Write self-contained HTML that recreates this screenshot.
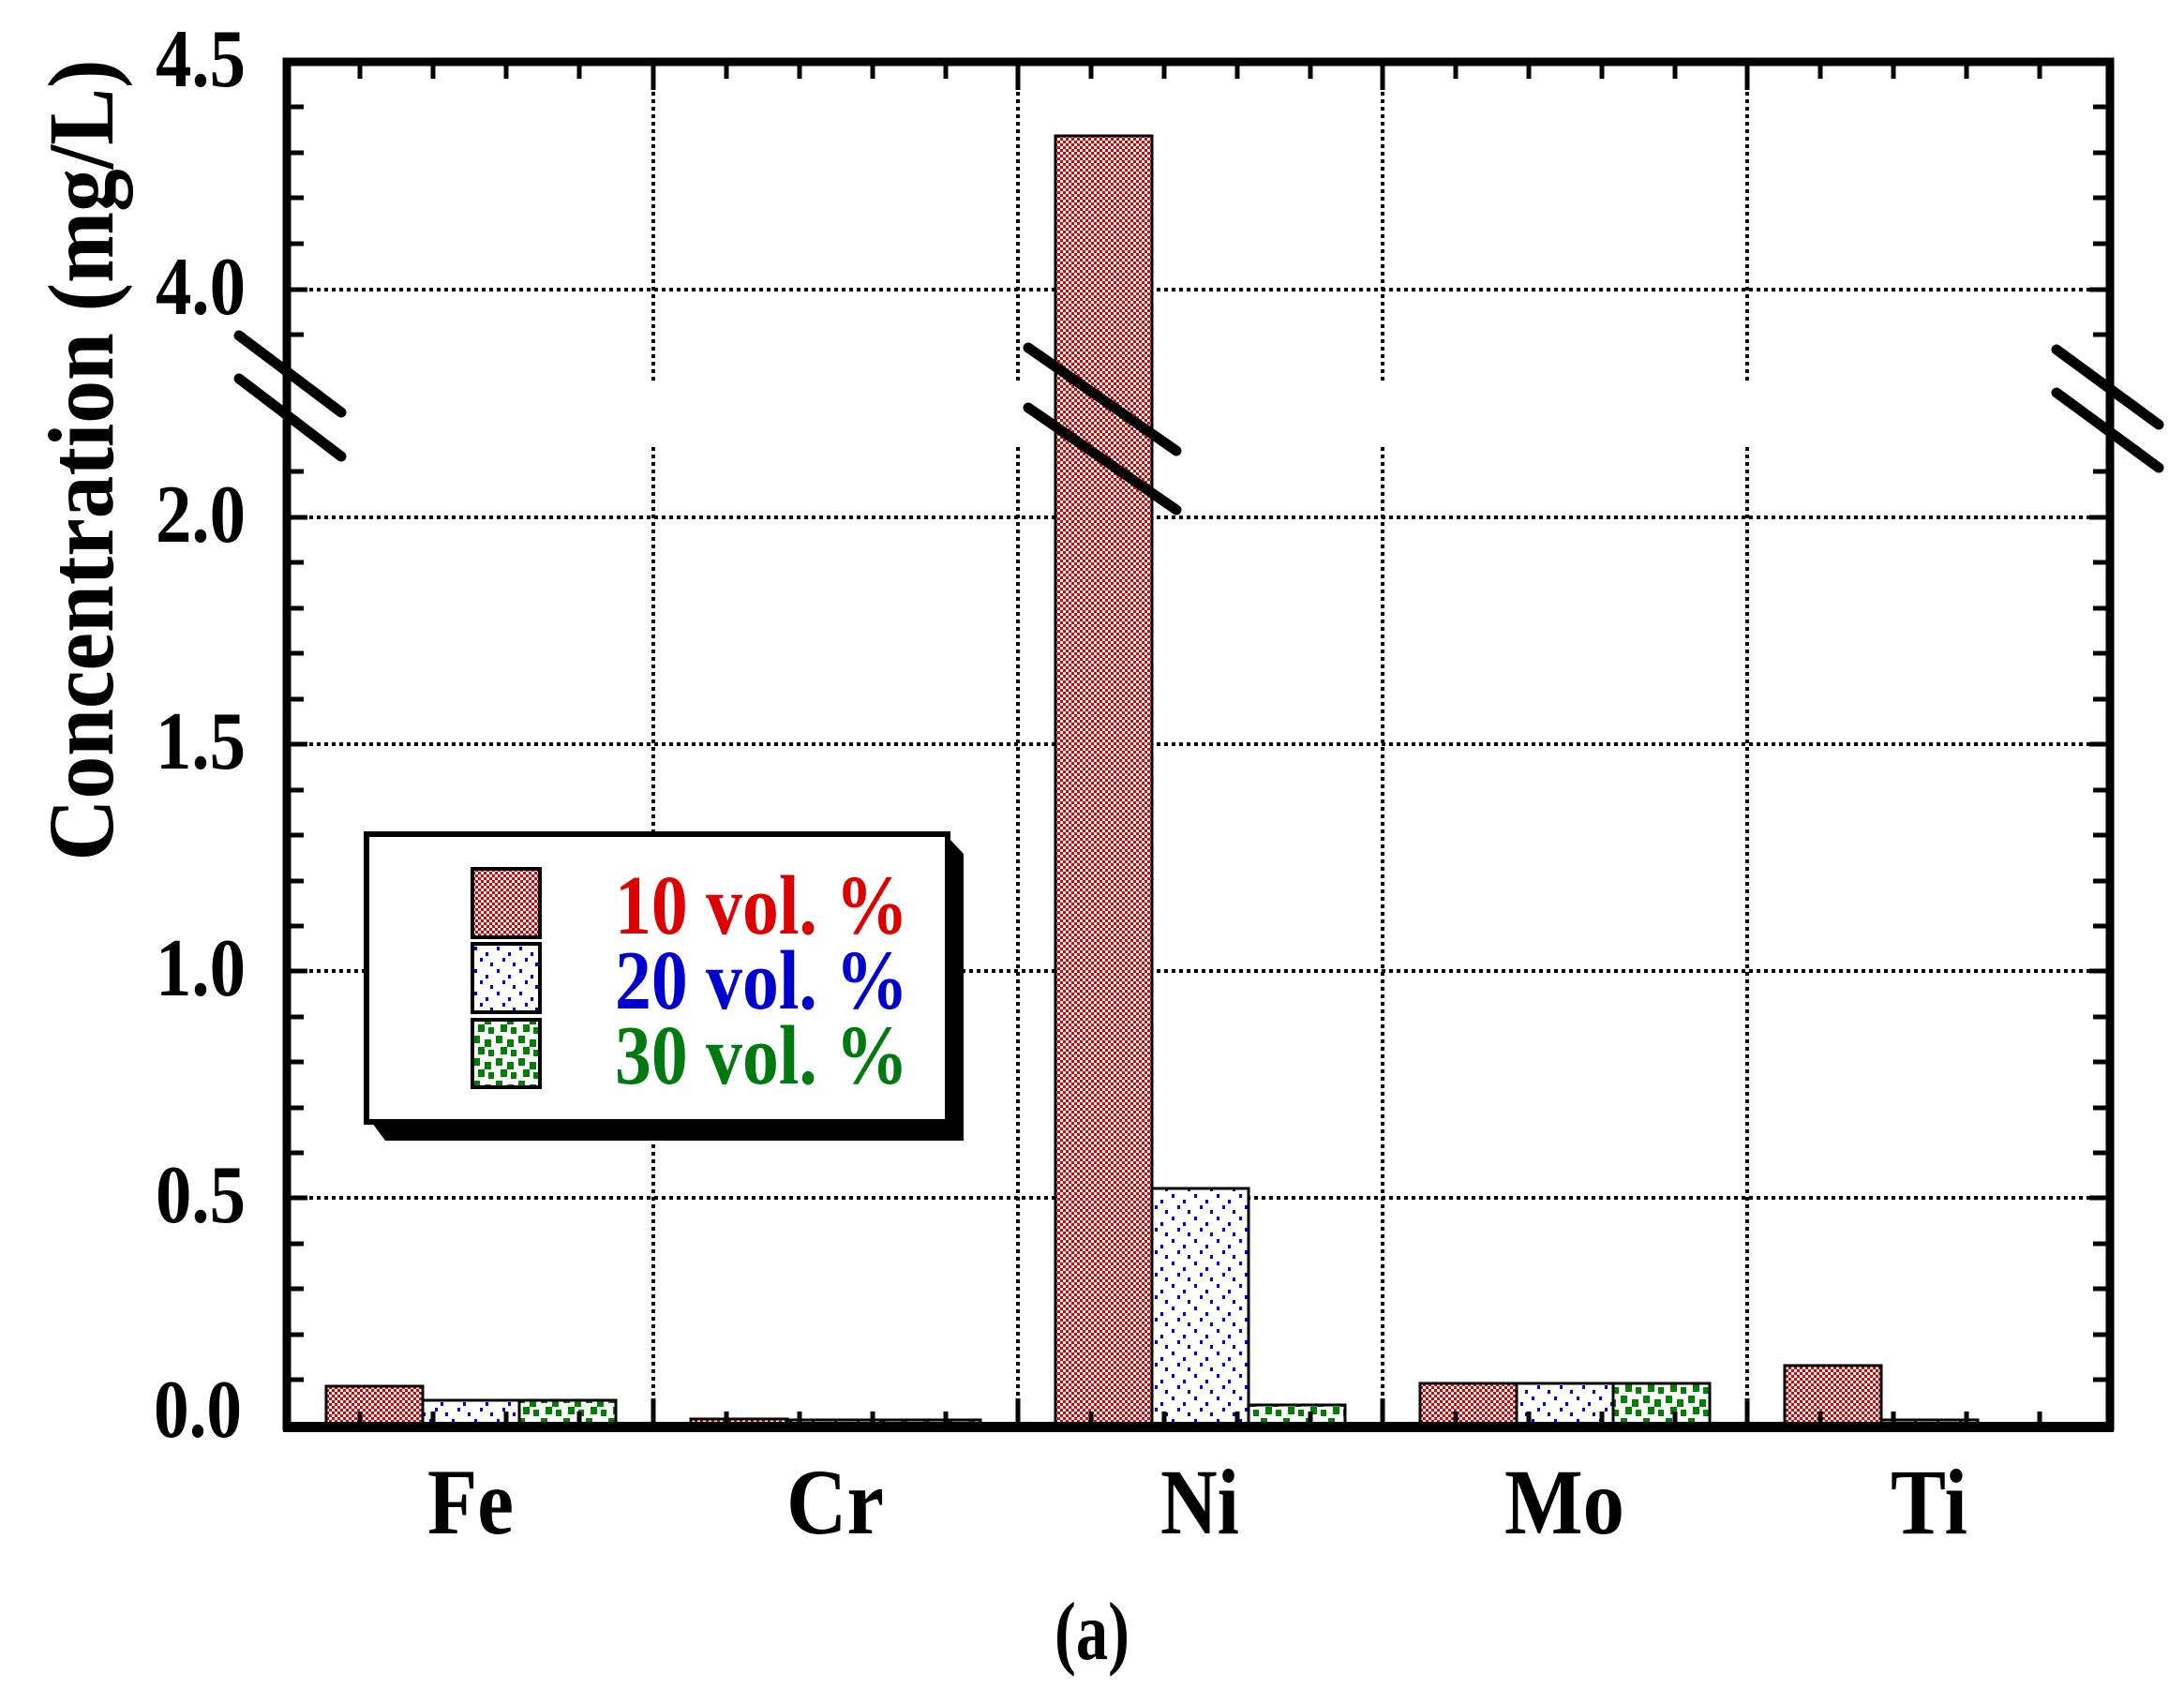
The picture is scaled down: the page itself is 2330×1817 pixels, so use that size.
<!DOCTYPE html>
<html><head><meta charset="utf-8"><style>
html,body{margin:0;padding:0;background:#fff;}
svg{display:block;}
text{font-family:"Liberation Serif",serif;font-weight:bold;}
</style></head><body>
<svg width="2330" height="1817" viewBox="0 0 2330 1817" xmlns="http://www.w3.org/2000/svg">
<defs>
<pattern id="pr" width="6" height="6" patternUnits="userSpaceOnUse">
<rect width="6" height="6" fill="#fff"/><rect width="3" height="3" fill="#e00000"/><rect x="3" y="3" width="3" height="3" fill="#e00000"/>
</pattern>
<pattern id="pb" width="24" height="24" patternUnits="userSpaceOnUse">
<rect width="24" height="24" fill="#fff"/>
<rect x="2" y="2" width="3" height="4" fill="#0000dd"/><rect x="14" y="8" width="3" height="4" fill="#0000dd"/>
<rect x="8" y="14" width="3" height="4" fill="#0000dd"/><rect x="19" y="19" width="3" height="4" fill="#0000dd"/>
</pattern>
<pattern id="pg" width="24" height="24" patternUnits="userSpaceOnUse">
<rect width="24" height="24" fill="#fff"/>
<rect x="1" y="1" width="7" height="8" fill="#008000"/><rect x="13" y="5" width="7" height="8" fill="#008000"/>
<rect x="6" y="13" width="7" height="8" fill="#008000"/><rect x="17" y="16" width="6" height="7" fill="#008000"/>
</pattern>
</defs>

<g stroke="#000" stroke-width="4" stroke-dasharray="4,4">
<line x1="306" y1="309" x2="2251" y2="309"/>
<line x1="306" y1="552" x2="2251" y2="552"/>
<line x1="306" y1="794" x2="2251" y2="794"/>
<line x1="306" y1="1036" x2="2251" y2="1036"/>
<line x1="306" y1="1278" x2="2251" y2="1278"/>
<line x1="697" y1="66" x2="697" y2="408"/><line x1="697" y1="477" x2="697" y2="1520"/>
<line x1="1086" y1="66" x2="1086" y2="408"/><line x1="1086" y1="477" x2="1086" y2="1520"/>
<line x1="1475" y1="66" x2="1475" y2="408"/><line x1="1475" y1="477" x2="1475" y2="1520"/>
<line x1="1864" y1="66" x2="1864" y2="408"/><line x1="1864" y1="477" x2="1864" y2="1520"/>
</g>

<g stroke="#000" stroke-width="3">
<rect x="348" y="1479" width="103" height="43" fill="url(#pr)"/>
<rect x="451" y="1494" width="103" height="28" fill="url(#pb)"/>
<rect x="554" y="1494" width="103" height="28" fill="url(#pg)"/>
<rect x="737" y="1514" width="103" height="8" fill="url(#pr)"/>
<rect x="840" y="1515" width="103" height="7" fill="url(#pb)"/>
<rect x="943" y="1515" width="103" height="7" fill="url(#pg)"/>
<rect x="1126" y="145" width="103" height="1377" fill="url(#pr)"/>
<rect x="1229" y="1268" width="103" height="254" fill="url(#pb)"/>
<rect x="1332" y="1499" width="103" height="23" fill="url(#pg)"/>
<rect x="1515" y="1476" width="103" height="46" fill="url(#pr)"/>
<rect x="1618" y="1476" width="103" height="46" fill="url(#pb)"/>
<rect x="1721" y="1476" width="103" height="46" fill="url(#pg)"/>
<rect x="1904" y="1457" width="103" height="65" fill="url(#pr)"/>
<rect x="2007" y="1515" width="103" height="7" fill="url(#pb)"/>
</g>

<g stroke="#000" stroke-width="5">
<path d="M306 114h18M306 163h18M306 211h18M306 260h18M306 309h22M306 357h18
M306 503h18M306 552h22M306 600h18M306 649h18M306 697h18M306 746h18M306 794h22M306 843h18M306 891h18M306 940h18M306 988h18M306 1036h22M306 1085h18M306 1133h18M306 1182h18M306 1230h18M306 1278h22M306 1327h18M306 1375h18M306 1424h18M306 1472h18"/>
<path d="M2251 114h-18M2251 163h-18M2251 211h-18M2251 260h-18M2251 309h-22M2251 357h-18
M2251 503h-18M2251 552h-22M2251 600h-18M2251 649h-18M2251 697h-18M2251 746h-18M2251 794h-22M2251 843h-18M2251 891h-18M2251 940h-18M2251 988h-18M2251 1036h-22M2251 1085h-18M2251 1133h-18M2251 1182h-18M2251 1230h-18M2251 1278h-22M2251 1327h-18M2251 1375h-18M2251 1424h-18M2251 1472h-18"/>
<path d="M384 66v18M462 66v18M540 66v18M618 66v18M697 66v30M775 66v18M853 66v18M931 66v18M1009 66v18M1086 66v30M1164 66v18M1242 66v18M1320 66v18M1398 66v18M1475 66v30M1553 66v18M1631 66v18M1709 66v18M1787 66v18M1864 66v30M1942 66v18M2020 66v18M2098 66v18M2176 66v18"/>
<path d="M384 1522v-16M462 1522v-16M540 1522v-16M618 1522v-16M697 1522v-30M775 1522v-16M853 1522v-16M931 1522v-16M1009 1522v-16M1086 1522v-30M1164 1522v-16M1242 1522v-16M1320 1522v-16M1398 1522v-16M1475 1522v-30M1553 1522v-16M1631 1522v-16M1709 1522v-16M1787 1522v-16M1864 1522v-30M1942 1522v-16M2020 1522v-16M2098 1522v-16M2176 1522v-16"/>
</g>

<rect x="306" y="66" width="1945" height="1456" fill="none" stroke="#000" stroke-width="9"/>
<rect x="302" y="1517" width="1953" height="11" fill="#000"/>

<g stroke="#000" stroke-width="11" stroke-linecap="round">
<line x1="255" y1="358" x2="364" y2="440"/>
<line x1="255" y1="404" x2="364" y2="487"/>
<line x1="1097" y1="371" x2="1255" y2="481"/>
<line x1="1097" y1="435" x2="1255" y2="544"/>
<line x1="2194" y1="373" x2="2303" y2="453"/>
<line x1="2194" y1="419" x2="2303" y2="499"/>
</g>

<g font-size="88" text-anchor="end" fill="#000">
<text x="262" y="92" textLength="96" lengthAdjust="spacingAndGlyphs">4.5</text>
<text x="262" y="335" textLength="96" lengthAdjust="spacingAndGlyphs">4.0</text>
<text x="262" y="578" textLength="96" lengthAdjust="spacingAndGlyphs">2.0</text>
<text x="262" y="820" textLength="96" lengthAdjust="spacingAndGlyphs">1.5</text>
<text x="262" y="1062" textLength="96" lengthAdjust="spacingAndGlyphs">1.0</text>
<text x="262" y="1304" textLength="96" lengthAdjust="spacingAndGlyphs">0.5</text>
<text x="258" y="1533" textLength="94" lengthAdjust="spacingAndGlyphs">0.0</text>
</g>

<text transform="translate(120,491) rotate(-90)" font-size="100" text-anchor="middle" textLength="855" lengthAdjust="spacingAndGlyphs">Concentration (mg/L)</text>

<g font-size="100" text-anchor="middle">
<text x="502" y="1636" textLength="92" lengthAdjust="spacingAndGlyphs">Fe</text>
<text x="891" y="1636" textLength="104" lengthAdjust="spacingAndGlyphs">Cr</text>
<text x="1280" y="1636" textLength="84" lengthAdjust="spacingAndGlyphs">Ni</text>
<text x="1669" y="1636" textLength="128" lengthAdjust="spacingAndGlyphs">Mo</text>
<text x="2058" y="1636" textLength="82" lengthAdjust="spacingAndGlyphs">Ti</text>
</g>
<text x="1165" y="1770" font-size="88" text-anchor="middle" textLength="80" lengthAdjust="spacingAndGlyphs">(a)</text>

<polygon points="394,1194 1011,1194 1011,893 1028,911 1028,1217 411,1217" fill="#000"/>
<rect x="391" y="890" width="620" height="307" fill="#fff" stroke="#000" stroke-width="6"/>
<g stroke="#000" stroke-width="4">
<rect x="504" y="927" width="72" height="73" fill="url(#pr)"/>
<rect x="504" y="1007" width="72" height="73" fill="url(#pb)"/>
<rect x="504" y="1088" width="72" height="72" fill="url(#pg)"/>
</g>
<g font-size="90">
<text x="656" y="996" fill="#dd0000" textLength="313" lengthAdjust="spacingAndGlyphs">10 vol. %</text>
<text x="656" y="1076" fill="#0000cc" textLength="313" lengthAdjust="spacingAndGlyphs">20 vol. %</text>
<text x="656" y="1156" fill="#007a10" textLength="313" lengthAdjust="spacingAndGlyphs">30 vol. %</text>
</g>
</svg>
</body></html>
